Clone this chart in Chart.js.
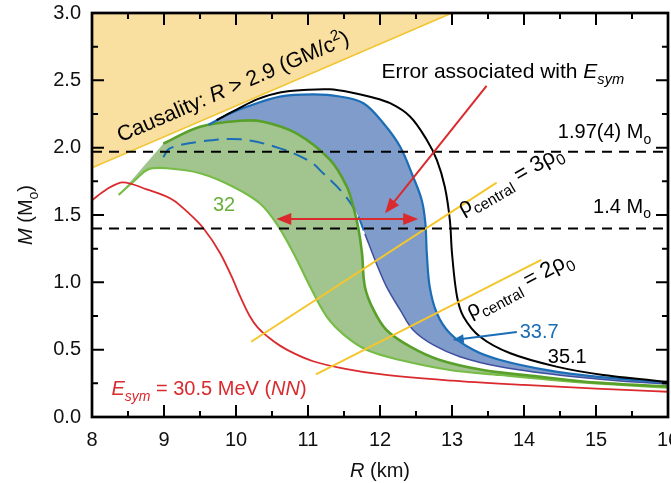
<!DOCTYPE html>
<html><head><meta charset="utf-8">
<script src="https://cdn.jsdelivr.net/npm/chart.js@4"></script>
<style>html,body{margin:0;padding:0;background:#fff}</style>
</head><body>
<canvas id="c" width="671" height="483"></canvas>
<script>
// ---------- data ----------
const xTickLabels = ['8','9','10','11','12','13','14','15','16'];
const yTickLabels = ['0.0','0.5','1.0','1.5','2.0','2.5','3.0'];

const causalityR = [8, 13.0, 8];
const causalityM = [1.85, 3.0, 3.0];

const redR = [8.0, 8.2, 8.43, 8.76, 9.13, 9.32, 9.55, 9.78, 9.94, 10.06, 10.19, 10.3, 10.45, 10.61, 10.8, 11.07, 11.5, 12.0, 13.0, 14.0, 15.0, 16.2];
const redM = [1.61, 1.69, 1.743, 1.69, 1.61, 1.525, 1.40, 1.216, 1.042, 0.893, 0.75, 0.665, 0.592, 0.53, 0.474, 0.414, 0.36, 0.318, 0.27, 0.238, 0.21, 0.183];

const green32LowerR = [8.37, 8.6, 8.78, 9.04, 9.5, 9.96, 10.33, 10.57, 10.8, 11.03, 11.26, 11.5, 11.82, 12.28, 12.97, 13.67, 14.5, 15.3, 16.2];
const green32LowerM = [1.649, 1.76, 1.839, 1.847, 1.81, 1.71, 1.587, 1.43, 1.216, 0.968, 0.745, 0.61, 0.497, 0.423, 0.349, 0.312, 0.27, 0.24, 0.213];

const green32UpperR = [8.99, 9.5, 10.06, 10.38, 10.84, 11.31, 11.54, 11.63, 11.7, 11.75, 11.79, 11.91, 12.09, 12.42, 12.83, 13.43, 14.2, 15.0, 16.2];
const green32UpperM = [2.03, 2.156, 2.2, 2.193, 2.106, 1.908, 1.71, 1.56, 1.40, 1.216, 0.968, 0.795, 0.646, 0.522, 0.423, 0.349, 0.3, 0.255, 0.222];

const blue337UpperR = [9.62, 9.9, 10.15, 10.61, 11.07, 11.44, 11.77, 12.05, 12.28, 12.46, 12.58, 12.63, 12.65, 12.69, 12.79, 12.97, 13.3, 13.67, 14.3, 15.0, 16.2];
const blue337UpperM = [2.17, 2.25, 2.304, 2.379, 2.395, 2.38, 2.33, 2.18, 2.007, 1.784, 1.61, 1.44, 1.216, 0.968, 0.77, 0.622, 0.497, 0.423, 0.35, 0.3, 0.248];

const blue337LowerR = [8.99, 9.08, 9.5, 10.06, 10.61, 11.03, 11.21, 11.49, 11.68, 11.79, 11.95, 12.09, 12.28, 12.46, 12.74, 13.11, 13.67, 14.5, 15.3, 16.2];
const blue337LowerM = [1.93, 1.995, 2.045, 2.062, 1.995, 1.896, 1.81, 1.66, 1.51, 1.36, 1.14, 0.968, 0.795, 0.646, 0.535, 0.448, 0.373, 0.31, 0.27, 0.238];

const black351R = [9.73, 10.0, 10.3, 10.61, 11.0, 11.3, 11.6, 11.86, 12.14, 12.42, 12.65, 12.79, 12.9, 12.97, 13.0, 13.07, 13.16, 13.39, 13.81, 14.45, 15.1, 16.2];
const black351M = [2.205, 2.28, 2.36, 2.41, 2.43, 2.433, 2.41, 2.378, 2.33, 2.23, 2.057, 1.908, 1.71, 1.463, 1.216, 0.893, 0.745, 0.596, 0.473, 0.374, 0.312, 0.25];

const rho3R = [10.21, 13.62];
const rho3M = [0.559, 1.74];
const rho2R = [11.11, 14.24];
const rho2M = [0.317, 1.166];

const refMassLabels = ['1.97(4) M', '1.4 M'];
const refMasses = [1.97, 1.4];
const refR = [8, 16];

// ---------- helpers ----------
const FF = '"Liberation Sans", Arial, Helvetica, sans-serif';
const pts = (R, M) => R.map((r, i) => ({x: r, y: M[i]}));
const band = (uR, uM, lR, lM) => pts(uR, uM).concat(pts(lR, lM).reverse());
const T = 0.35;

const datasets = [
  {data: pts(causalityR, causalityM), fill: 'shape', backgroundColor: '#F9DFA0', borderWidth: 0, tension: 0, order: 30},
  {data: pts(causalityR.slice(0, 2), causalityM.slice(0, 2)), borderColor: '#F2C530', borderWidth: 1.6, order: 29},
  {data: band(blue337UpperR, blue337UpperM, blue337LowerR, blue337LowerM), fill: 'shape', backgroundColor: '#7F9CCB', borderWidth: 0, tension: T, order: 28},
  {data: band(green32UpperR, green32UpperM, green32LowerR, green32LowerM), fill: 'shape', backgroundColor: '#A2C58F', borderWidth: 0, tension: T, order: 27},
  {data: pts(blue337LowerR, blue337LowerM), borderWidth: 2, tension: T, order: 26,
   segment: {
     borderDash: c => (c.p1.parsed.y >= 1.35 ? [15, 8] : []),
     borderColor: c => (c.p1.parsed.y >= 1.35 ? '#1B6DB6' : '#3F4F9F'),
     borderWidth: c => (c.p1.parsed.y >= 1.35 ? 2 : 1.5)
   }},
  {data: pts(green32LowerR, green32LowerM), borderColor: '#78BC48', borderWidth: 2.2, tension: T, order: 25},
  {data: pts(green32UpperR, green32UpperM), borderColor: '#58A02A', borderWidth: 2.6, tension: T, order: 24},
  {data: pts(blue337UpperR, blue337UpperM), borderColor: '#1B6DB6', borderWidth: 2.2, tension: T, order: 23},
  {data: pts(black351R, black351M), borderColor: '#000000', borderWidth: 2, tension: T, order: 22},
  {data: pts(redR, redM), borderColor: '#DA2A2E', borderWidth: 1.8, cubicInterpolationMode: 'monotone', order: 21},
  {data: pts(rho3R, rho3M), borderColor: '#F5C62C', borderWidth: 2, order: 20},
  {data: pts(rho2R, rho2M), borderColor: '#F5C62C', borderWidth: 2, order: 19},
  {data: pts(refR, [refMasses[0], refMasses[0]]), borderColor: '#000', borderWidth: 2, borderDash: [10, 7], order: 18},
  {data: pts(refR, [refMasses[1], refMasses[1]]), borderColor: '#000', borderWidth: 2, borderDash: [10, 7], order: 17}
].map(d => Object.assign({showLine: true, pointRadius: 0, pointHoverRadius: 0, fill: false, borderColor: 'rgba(0,0,0,0)'}, d));

// annotation texts, anchored in data coordinates
const annotations = [
  {x: 8.40, y: 2.04, angle: -23.3, size: 21.5, color: '#000', runs: [{t: 'Causality: '}, {t: 'R', i: 1}, {t: ' > 2.9 (GM/c'}, {t: '2', sup: 1}, {t: ')'}]},
  {x: 12.02, y: 2.517, angle: 0, size: 21, color: '#000', runs: [{t: 'Error associated with '}, {t: 'E', i: 1}, {t: 'sym', i: 1, sub: 1}]},
  {x: 14.47, y: 2.072, angle: 0, size: 20, color: '#000', runs: [{t: refMassLabels[0]}, {t: 'o', sub: 1}]},
  {x: 14.96, y: 1.517, angle: 0, size: 20, color: '#000', runs: [{t: refMassLabels[1]}, {t: 'o', sub: 1}]},
  {x: 13.15, y: 1.50, angle: -30, size: 22, color: '#000', runs: [{t: 'ρ'}, {t: 'central', sub: 1}, {t: ' = 3ρ'}, {t: '0', sub: 1}]},
  {x: 13.26, y: 0.735, angle: -28, size: 22, color: '#000', runs: [{t: 'ρ'}, {t: 'central', sub: 1}, {t: ' = 2ρ'}, {t: '0', sub: 1}]},
  {x: 9.68, y: 1.53, angle: 0, size: 20, color: '#6BAF3B', runs: [{t: '32'}]},
  {x: 13.94, y: 0.587, angle: 0, size: 20, color: '#1B6DB6', runs: [{t: '33.7'}]},
  {x: 14.33, y: 0.401, angle: 0, size: 20, color: '#000', runs: [{t: '35.1'}]},
  {x: 8.27, y: 0.16, angle: 0, size: 20, color: '#DA2A2E', runs: [{t: 'E', i: 1}, {t: 'sym', i: 1, sub: 1}, {t: ' = 30.5 MeV ('}, {t: 'NN', i: 1}, {t: ')'}]}
];
const arrows = [
  {from: [11.5, 1.47], to: [10.56, 1.47], color: '#DA2A2E'},
  {from: [11.5, 1.47], to: [12.53, 1.47], color: '#DA2A2E'},
  {from: [13.48, 2.458], to: [12.07, 1.513], color: '#DA2A2E'},
  {from: [13.90, 0.631], to: [13.01, 0.572], color: '#1B6DB6', small: 1}
];

function drawRuns(ctx, x, y, angle, runs, size, color) {
  ctx.save();
  ctx.translate(x, y);
  ctx.rotate(angle * Math.PI / 180);
  ctx.fillStyle = color;
  ctx.textBaseline = 'alphabetic';
  ctx.textAlign = 'left';
  let cx = 0;
  for (const r of runs) {
    const s = (r.sub || r.sup) ? size * 0.7 : size;
    ctx.font = (r.i ? 'italic ' : '') + s + 'px ' + FF;
    const dy = r.sub ? size * 0.28 : (r.sup ? -size * 0.4 : 0);
    ctx.fillText(r.t, cx, dy);
    cx += ctx.measureText(r.t).width;
  }
  ctx.restore();
}

function drawArrow(ctx, x1, y1, x2, y2, color, small) {
  const a = Math.atan2(y2 - y1, x2 - x1);
  const L = small ? 11 : 15, W = small ? 4.5 : 6;
  ctx.save();
  ctx.strokeStyle = color; ctx.fillStyle = color; ctx.lineWidth = 2;
  ctx.beginPath(); ctx.moveTo(x1, y1);
  ctx.lineTo(x2 - Math.cos(a) * L * 0.8, y2 - Math.sin(a) * L * 0.8); ctx.stroke();
  ctx.beginPath();
  ctx.moveTo(x2, y2);
  ctx.lineTo(x2 - L * Math.cos(a) + W * Math.sin(a), y2 - L * Math.sin(a) - W * Math.cos(a));
  ctx.lineTo(x2 - L * Math.cos(a) - W * Math.sin(a), y2 - L * Math.sin(a) + W * Math.cos(a));
  ctx.closePath(); ctx.fill();
  ctx.restore();
}

const decor = {
  id: 'decor',
  afterDatasetsDraw(chart) {
    const {ctx, chartArea: a, scales: {x, y}} = chart;
    for (const n of annotations) drawRuns(ctx, x.getPixelForValue(n.x), y.getPixelForValue(n.y), n.angle, n.runs, n.size, n.color);
    for (const ar of arrows) drawArrow(ctx, x.getPixelForValue(ar.from[0]), y.getPixelForValue(ar.from[1]), x.getPixelForValue(ar.to[0]), y.getPixelForValue(ar.to[1]), ar.color, ar.small);
    ctx.save();
    ctx.strokeStyle = '#000';
    ctx.lineWidth = 2;
    ctx.beginPath();
    for (let v = 8; v <= 16.001; v += 0.5) {
      const px = x.getPixelForValue(v);
      const len = Math.abs(v - Math.round(v)) < 1e-6 ? 12 : 6;
      ctx.moveTo(px, a.bottom); ctx.lineTo(px, a.bottom - len);
      ctx.moveTo(px, a.top); ctx.lineTo(px, a.top + len);
    }
    for (let v = 0; v <= 3.001; v += 0.25) {
      const py = y.getPixelForValue(v);
      const len = Math.abs(v * 2 - Math.round(v * 2)) < 1e-6 ? 12 : 6;
      ctx.moveTo(a.left, py); ctx.lineTo(a.left + len, py);
      ctx.moveTo(a.right, py); ctx.lineTo(a.right - len, py);
    }
    ctx.stroke();
    ctx.lineWidth = 2.7;
    ctx.strokeRect(a.left, a.top, a.right - a.left, a.bottom - a.top);
    ctx.restore();
    const cxm = (a.left + a.right) / 2;
    ctx.save();
    ctx.font = 'italic 20px ' + FF;
    const w1 = ctx.measureText('R').width;
    ctx.font = '20px ' + FF;
    const w2 = ctx.measureText(' (km)').width;
    ctx.restore();
    drawRuns(ctx, cxm - (w1 + w2) / 2, 477, 0, [{t: 'R', i: 1}, {t: ' (km)'}], 20, '#111');
    const cym = (a.top + a.bottom) / 2;
    ctx.save();
    ctx.font = 'italic 20px ' + FF;
    let wt = ctx.measureText('M').width;
    ctx.font = '20px ' + FF; wt += ctx.measureText(' (M)').width;
    ctx.font = '14px ' + FF; wt += ctx.measureText('o').width;
    ctx.restore();
    drawRuns(ctx, 32, cym + wt / 2, -90, [{t: 'M', i: 1}, {t: ' (M'}, {t: 'o', sub: 1}, {t: ')'}], 20, '#111');
  }
};

new Chart(document.getElementById('c'), {
  type: 'scatter',
  data: {datasets},
  plugins: [decor],
  options: {
    responsive: false, animation: false, devicePixelRatio: 1,
    layout: {padding: {left: 0, right: 3, top: 13, bottom: 0}},
    plugins: {legend: {display: false}, tooltip: {enabled: false}},
    scales: {
      x: {
        type: 'linear', min: 8, max: 16,
        grid: {display: false, drawTicks: false}, border: {display: false},
        ticks: {stepSize: 1, padding: 11, color: '#111', font: {size: 20, family: FF}, maxRotation: 0, autoSkip: false,
                callback: (v, i) => xTickLabels[i]},
        afterFit(s) { s.height = 66; s.paddingLeft = 0; s.paddingRight = 0; }
      },
      y: {
        type: 'linear', min: 0, max: 3,
        grid: {display: false, drawTicks: false}, border: {display: false},
        ticks: {stepSize: 0.5, padding: 11, color: '#111', font: {size: 20, family: FF}, autoSkip: false,
                callback: (v, i) => yTickLabels[i]},
        afterFit(s) { s.width = 92; s.paddingTop = 0; s.paddingBottom = 0; }
      }
    }
  }
});
</script>
</body></html>
